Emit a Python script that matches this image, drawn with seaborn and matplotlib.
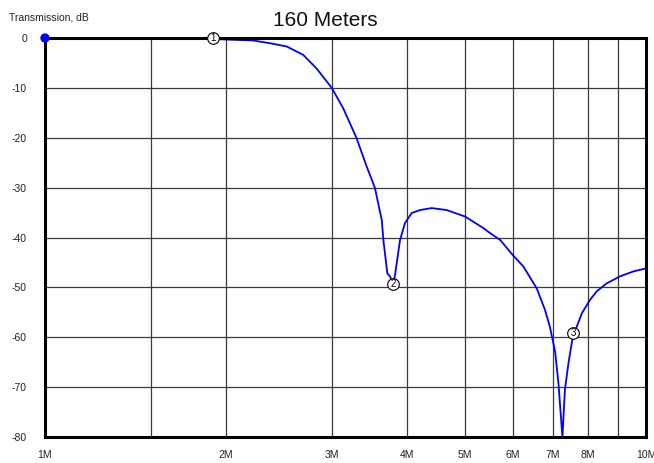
import matplotlib
matplotlib.use("Agg")
import matplotlib.pyplot as plt
import seaborn as sns
import pandas as pd

# ---- data (frequency in MHz, transmission in dB) ----
freq_mhz = [1.0, 1.5, 1.9, 1.955, 2.22, 2.37, 2.525, 2.69, 2.83, 3.0, 3.135,
            3.30, 3.43, 3.50, 3.54, 3.634, 3.656, 3.712, 3.75, 3.797, 3.823,
            3.897, 3.972, 4.075, 4.207, 4.4, 4.66, 5.0, 5.36, 5.5, 5.72, 6.0,
            6.25, 6.58, 6.79, 6.92, 7.06, 7.15, 7.26, 7.33, 7.43, 7.57, 7.67,
            7.82, 8.07, 8.28, 8.60, 9.05, 9.53, 10.0]
trans_db = [0.0, 0.0, 0.0, -0.26, -0.5, -1.06, -1.7, -3.4, -6.1, -10.0, -14.1,
            -20.1, -25.8, -28.5, -30.1, -36.5, -40.5, -47.2, -47.8, -49.3, -47.5,
            -40.5, -37.1, -35.1, -34.5, -34.1, -34.5, -35.8, -38.1, -39.1, -40.5, -43.5,
            -45.8, -50.2, -54.5, -57.9, -62.9, -69.2, -80.0, -70.5, -65.2, -59.2, -57.9,
            -55.2, -52.5, -50.8, -49.2, -47.8, -46.8, -46.2]

marker_freqs = [1.9, 3.797, 7.57]
marker_db = [0.0, -49.3, -59.2]
marker_labels = ["1", "2", "3"]

start_freq = [1.0]
start_db = [0.0]

x_ticks = [1, 1.5, 2, 3, 4, 5, 6, 7, 8, 9, 10]
x_tick_labels = ["1M", "", "2M", "3M", "4M", "5M", "6M", "7M", "8M", "", "10M"]
y_ticks = [0, -10, -20, -30, -40, -50, -60, -70, -80]
y_tick_labels = ["0", "-10", "-20", "-30", "-40", "-50", "-60", "-70", "-80"]

title_text = "160 Meters"
ylabel_text = "Transmission, dB"

# ---- style ----
sns.set_style("white")
plt.rcParams["font.family"] = ["Liberation Sans", "DejaVu Sans"]
plt.rcParams["axes.unicode_minus"] = False

fig = plt.figure(figsize=(6.54, 4.63), dpi=100)
W, H = 654, 463
ax = fig.add_axes([45 / W, 1 - 437 / H, (646 - 45) / W, (437 - 38) / H])

df = pd.DataFrame({"freq": freq_mhz, "db": trans_db})
sns.lineplot(data=df, x="freq", y="db", ax=ax, color="#0000ff", linewidth=1.3,
             zorder=3, sort=False)

ax.set_xscale("log")
ax.set_xlim(1, 10)
ax.set_ylim(-80, 0)

ax.set_xticks(x_ticks)
ax.set_xticklabels(x_tick_labels)
ax.minorticks_off()
ax.set_xticks([], minor=True)
ax.set_yticks(y_ticks)
ax.set_yticklabels(y_tick_labels)

ax.tick_params(axis="both", length=0, labelsize=7.5, colors="#222222")
ax.tick_params(axis="x", pad=9)
ax.tick_params(axis="y", pad=13)

ax.grid(True, color="#3a3a3a", linewidth=0.9)
ax.set_axisbelow(True)

for sp in ax.spines.values():
    sp.set_visible(True)
    sp.set_color("black")
    sp.set_linewidth(2.2)
    sp.set_zorder(4)

ax.set_xlabel("")
ax.set_ylabel("")

# start dot
ax.scatter(start_freq, start_db, s=45, color="#0000ff", zorder=6, clip_on=False,
           edgecolors="none")

# numbered markers
ax.scatter(marker_freqs, marker_db, s=70, facecolor="white", edgecolor="black",
           linewidth=0.8, zorder=7, clip_on=False)
for fx, fy, lab in zip(marker_freqs, marker_db, marker_labels):
    ax.text(fx, fy, lab, ha="center", va="center", fontsize=7, zorder=8,
            color="black")

fig.text(325 / W, 1 - 20 / H, title_text, ha="center", va="center", fontsize=15,
         color="#111111")
fig.text(9 / W, 1 - 17 / H, ylabel_text, ha="left", va="center", fontsize=7.5,
         color="#222222")

fig.savefig("out.png", dpi=100)
